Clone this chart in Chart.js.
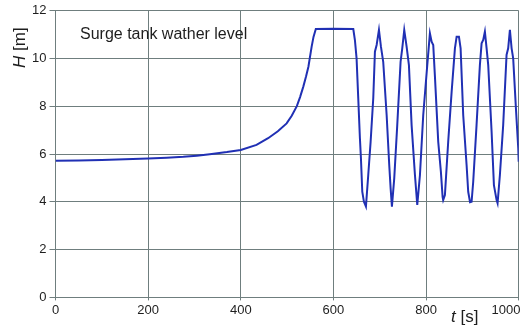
<!DOCTYPE html>
<html>
<head>
<meta charset="utf-8">
<script src="https://cdn.jsdelivr.net/npm/chart.js@4/dist/chart.umd.min.js"></script>
<style>
  html, body { margin: 0; padding: 0; background: #ffffff; }
  #wrap { width: 528px; height: 326px; position: relative; }
</style>
</head>
<body>
<div id="wrap"><canvas id="c" width="528" height="326"></canvas></div>
<script>
// ---- data ----
const chartTitle = 'Surge tank wather level';
const xTickValues = [0, 200, 400, 600, 800, 1000];
const yTickValues = [0, 2, 4, 6, 8, 10, 12];
const times = [
  0, 50, 100, 150, 200, 240, 276, 305, 333, 370, 400, 434, 459, 480, 499, 510, 521, 528, 535, 541, 546, 553, 557, 562,
  600, 642.9, 646.4, 650, 653.6, 657.2, 659.4, 662.3, 665.9, 670.2,
  675.2, 680.3, 686, 689.6, 693.3, 698.3, 702.6, 707.5, 714.9, 720.5, 723.5, 726.3,
  731.3, 737.8, 745, 748.6, 752.9, 758, 763, 768.8, 776, 781,
  786.8, 793.9, 802.6, 808.3, 812, 815.5, 819, 826.3, 832, 835.7, 837, 840.7,
  847.8, 855.2, 862.3, 866, 871, 874.6, 880.2, 887.5, 891, 895, 898.3,
  901.8, 909, 916.2, 919.9, 923.4, 927, 930.7, 934.2, 941.5, 946.5, 952.3, 954.4,
  959.4, 966.5, 973.8, 977.3, 981, 984.7, 988.1, 994, 999, 1000
];
const levels = [
  5.72, 5.73, 5.75, 5.78, 5.81, 5.84, 5.88, 5.93, 5.99, 6.08, 6.17, 6.38, 6.66, 6.95, 7.28, 7.6, 8.0, 8.38, 8.82, 9.25, 9.65, 10.49, 10.9, 11.23,
  11.24, 11.23, 10.77, 10.0, 8.33, 6.66, 5.82, 4.42, 4.0, 3.8,
  5.12, 6.51, 8.33, 10.28, 10.56, 11.19, 10.49, 9.86, 7.63, 5.54, 4.56, 3.8,
  4.98, 7.21, 9.86, 10.42, 11.19, 10.49, 9.72, 7.21, 5.12, 3.87,
  5.12, 7.63, 9.72, 11.05, 10.7, 10.56, 9.3, 6.51, 5.26, 4.21, 4.07, 4.28,
  6.51, 8.6, 10.42, 10.91, 10.91, 10.42, 7.63, 5.54, 4.42, 3.98, 4.0,
  4.84, 7.21, 9.72, 10.63, 10.77, 11.12, 10.42, 9.72, 6.93, 4.7, 4.07, 3.94,
  5.12, 7.21, 10.15, 10.42, 11.19, 10.42, 10.0, 7.91, 6.24, 5.68
];

const points = times.map((t, i) => ({ x: t, y: levels[i] }));
const gridColor = '#6f7e7e';
const textColor = '#1e1e1e';
const fontFamily = '"Liberation Sans", Arial, sans-serif';

const labelsPlugin = {
  id: 'labelsPlugin',
  afterDraw(chart) {
    const ctx = chart.ctx;
    ctx.save();
    ctx.fillStyle = textColor;
    // in-plot title
    ctx.font = '16px ' + fontFamily;
    ctx.textAlign = 'left';
    ctx.textBaseline = 'alphabetic';
    ctx.fillText(chartTitle, 80, 39);
    // x axis title: italic t + [s]
    ctx.font = 'italic 17px ' + fontFamily;
    const tW = ctx.measureText('t ').width;
    ctx.fillText('t ', 451, 322);
    ctx.font = '17px ' + fontFamily;
    ctx.fillText('[s]', 451 + tW, 322);
    // y axis title rotated
    ctx.translate(25, 68);
    ctx.rotate(-Math.PI / 2);
    ctx.font = 'italic 17px ' + fontFamily;
    const hW = ctx.measureText('H ').width;
    ctx.fillText('H ', 0, 0);
    ctx.font = '17px ' + fontFamily;
    ctx.fillText('[m]', hW, 0);
    ctx.restore();
  }
};

new Chart(document.getElementById('c'), {
  type: 'line',
  data: {
    datasets: [{
      data: points,
      borderColor: '#2030b4',
      borderWidth: 2,
      pointRadius: 0,
      tension: 0,
      fill: false
    }]
  },
  options: {
    responsive: false,
    animation: false,
    devicePixelRatio: 1,
    layout: { autoPadding: false, padding: { top: 10.6, right: 9.3, left: 0, bottom: 0 } },
    plugins: { legend: { display: false }, tooltip: { enabled: false }, title: { display: false } },
    scales: {
      x: {
        type: 'linear',
        min: 0, max: 1000,
        afterBuildTicks(scale) { scale.ticks = xTickValues.map(v => ({ value: v })); },
        afterFit(scale) { scale.height = 28.6; scale.paddingLeft = 0; scale.paddingRight = 0; },
        grid: { color: gridColor, lineWidth: 1, tickLength: 3, drawTicks: true },
        border: { color: gridColor, width: 1 },
        ticks: {
          color: textColor,
          font: { family: fontFamily, size: 13 },
          padding: 2,
          maxRotation: 0,
          callback: v => (v === 1000 ? '1000' + '       ' : String(v))
        }
      },
      y: {
        type: 'linear',
        min: 0, max: 12,
        afterBuildTicks(scale) { scale.ticks = yTickValues.map(v => ({ value: v })); },
        afterFit(scale) { scale.width = 55.5; scale.paddingTop = 0; scale.paddingBottom = 0; },
        grid: { color: gridColor, lineWidth: 1, tickLength: 6, drawTicks: true },
        border: { color: gridColor, width: 1 },
        ticks: {
          color: textColor,
          font: { family: fontFamily, size: 13 },
          padding: 3,
          callback: v => String(v)
        }
      }
    }
  },
  plugins: [labelsPlugin]
});
</script>
</body>
</html>
